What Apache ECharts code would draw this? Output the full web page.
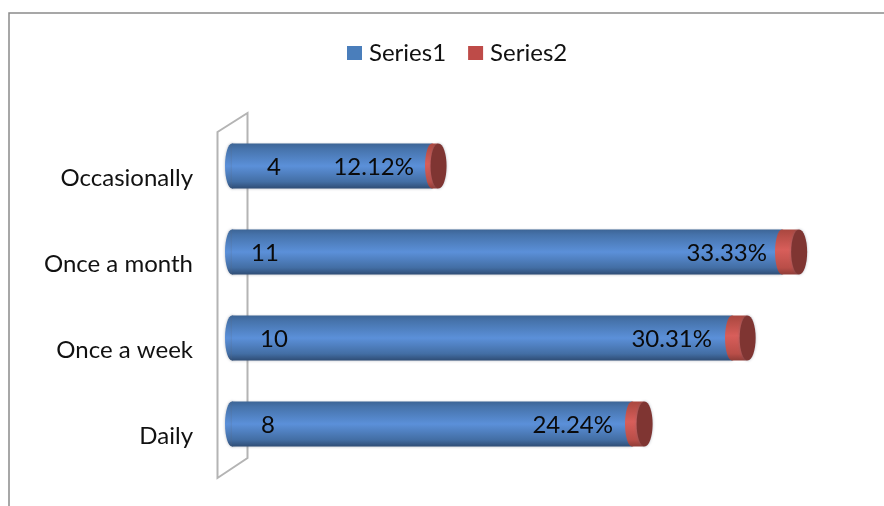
<!DOCTYPE html>
<html><head><meta charset="utf-8">
<style>html,body{margin:0;padding:0;background:#fff}#c{width:884px;height:506px;filter:blur(.45px)}</style>
<script src="https://cdn.jsdelivr.net/npm/echarts@6/dist/echarts.min.js"></script>
</head><body><div id="c"></div>
<script>
const categories = ['Daily', 'Once a week', 'Once a month', 'Occasionally'];
const series1 = [8, 10, 11, 4];
const series2Percent = [24.24, 30.31, 33.33, 12.12];
const series2Labels = ['24.24%', '30.31%', '33.33%', '12.12%'];
const series1LabelShift = [36, 42, 33, 42];
const series2LabelGap = [19, 20, 15, 18];

const FONT = 'Lato, Carlito, sans-serif';
const BAR_H = 45, RX = 7;
const blue = new echarts.graphic.LinearGradient(0, 0, 0, 1, [
  {offset: 0, color: '#3d6596'}, {offset: .12, color: '#4673ab'}, {offset: .5, color: '#5b90d9'},
  {offset: .85, color: '#436ea4'}, {offset: 1, color: '#2f4d75'}]);
const red = new echarts.graphic.LinearGradient(0, 0, 0, 1, [
  {offset: 0, color: '#a9473f'}, {offset: .45, color: '#d85e5a'}, {offset: .85, color: '#b94e48'}, {offset: 1, color: '#8f3c37'}]);
const soft = {shadowBlur: 3, shadowColor: 'rgba(90,100,120,.45)'};

function renderBlue(params, api) {
  const i = api.value(2);
  const a = api.coord([api.value(0), i]), b = api.coord([api.value(1), i]);
  const top = a[1] - BAR_H / 2;
  return {type: 'group', children: [
    {type: 'ellipse', shape: {cx: a[0], cy: a[1], rx: RX, ry: BAR_H / 2}, style: {fill: blue, ...soft}},
    {type: 'rect', shape: {x: a[0], y: top, width: b[0] - a[0], height: BAR_H}, style: {fill: blue, ...soft}},
    {type: 'text', style: {text: String(api.value(1)), x: a[0] + series1LabelShift[i], y: a[1] + 1, align: 'center', verticalAlign: 'middle', fill: '#0a0a0a', font: '24px ' + FONT}},
    {type: 'text', style: {text: series2Labels[i], x: b[0] - series2LabelGap[i], y: a[1] + 1, align: 'right', verticalAlign: 'middle', fill: '#0a0a0a', font: '24px ' + FONT}}
  ]};
}
function renderRed(params, api) {
  const i = api.value(2);
  const a = api.coord([api.value(0), i]), b = api.coord([api.value(1), i]);
  const top = a[1] - BAR_H / 2;
  return {type: 'group', children: [
    {type: 'ellipse', shape: {cx: a[0], cy: a[1], rx: RX, ry: BAR_H / 2}, style: {fill: red}},
    {type: 'rect', shape: {x: a[0], y: top, width: b[0] - a[0], height: BAR_H}, style: {fill: red}},
    {type: 'ellipse', shape: {cx: b[0] + .5, cy: b[1], rx: RX + 1, ry: BAR_H / 2}, style: {fill: '#7f3532', ...soft}}
  ]};
}

const chart = echarts.init(document.getElementById('c'), null, {renderer: 'canvas'});
chart.setOption({
  animation: false,
  backgroundColor: '#fff',
  graphic: [
    {type: 'polyline', silent: true, z: 0, shape: {points: [[884, 13], [9, 13], [9, 506]]}, style: {stroke: '#8a8a8a', lineWidth: 1.5, fill: null}},
    {type: 'polygon', silent: true, z: 0, shape: {points: [[217.5, 132], [247.5, 113], [247.5, 458], [217.5, 478]]}, style: {stroke: '#b4b4b4', lineWidth: 2, fill: '#fff'}}
  ],
  legend: {
    top: 36, left: 342, itemWidth: 15, itemHeight: 14, itemGap: 22, icon: 'rect',
    data: ['Series1', 'Series2'],
    textStyle: {fontFamily: FONT, fontSize: 24, color: '#111', padding: [0, 0, 0, 2]}
  },
  grid: {left: 232, top: 123, width: 600, height: 344},
  xAxis: {type: 'value', min: 0, max: 12, show: false},
  yAxis: {
    type: 'category', data: categories,
    axisLine: {show: false}, axisTick: {show: false},
    axisLabel: {margin: 39, fontFamily: FONT, fontSize: 24, color: '#111', align: 'right', verticalAlign: 'top'}
  },
  series: [
    {name: 'Series1', type: 'custom', z: 3, itemStyle: {color: '#4a7ebb'}, renderItem: renderBlue,
     encode: {x: [0, 1], y: 2},
     data: series1.map((v, i) => [0, v, i])},
    {name: 'Series2', type: 'custom', z: 4, itemStyle: {color: '#be4b48'}, renderItem: renderRed,
     encode: {x: [0, 1], y: 2},
     data: series2Percent.map((p, i) => [series1[i], series1[i] + p / 100, i])}
  ]
});
</script></body></html>
